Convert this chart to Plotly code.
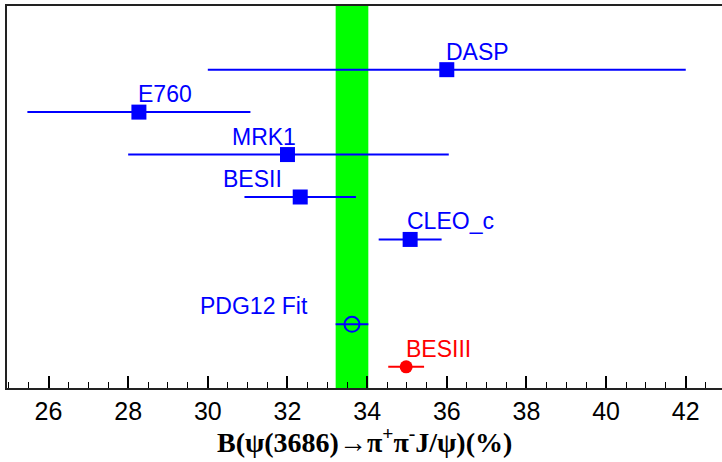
import plotly.graph_objects as go

# ---- data ----
experiments = ["DASP", "E760", "MRK1", "BESII", "CLEO_c", "PDG12 Fit", "BESIII"]
values = [36.0, 28.27, 32.0, 32.32, 35.08, 33.62, 34.98]
err_minus = [6.0, 2.8, 4.0, 1.4, 0.79, 0.41, 0.45]
err_plus = [6.0, 2.8, 4.05, 1.4, 0.79, 0.41, 0.45]
rows = [8, 7, 6, 5, 4, 2, 1]
tick_vals = [26, 28, 30, 32, 34, 36, 38, 40, 42]

# label placement: (anchor, x)
label_anchor = ["left", "left", "center", "center", "left", "center", "left"]
label_x = [36.0, 28.27, 31.41, 31.13, 35.02, 31.16, 34.99]

BLUE = "#0000ff"
RED = "#ff0000"
GREEN = "#00ff00"

fig = go.Figure()

# green PDG band
pdg_i = experiments.index("PDG12 Fit")
fig.add_shape(type="rect", xref="x", yref="paper",
              x0=values[pdg_i] - err_minus[pdg_i], x1=values[pdg_i] + err_plus[pdg_i],
              y0=0, y1=1, fillcolor=GREEN, line=dict(width=0), layer="below")

# measurements (squares)
sq = [i for i, e in enumerate(experiments) if e not in ("PDG12 Fit", "BESIII")]
fig.add_trace(go.Scatter(
    x=[values[i] for i in sq], y=[rows[i] for i in sq], mode="markers",
    marker=dict(symbol="square", size=15, color=BLUE),
    error_x=dict(type="data", symmetric=False,
                 array=[err_plus[i] for i in sq], arrayminus=[err_minus[i] for i in sq],
                 color=BLUE, thickness=2, width=0),
    showlegend=False))

# PDG fit
fig.add_trace(go.Scatter(
    x=[values[pdg_i]], y=[rows[pdg_i]], mode="markers",
    marker=dict(symbol="circle-open", size=15, color=BLUE, line=dict(width=2, color=BLUE)),
    error_x=dict(type="data", symmetric=False, array=[err_plus[pdg_i]],
                 arrayminus=[err_minus[pdg_i]], color=BLUE, thickness=2, width=0),
    showlegend=False))

# BESIII
b_i = experiments.index("BESIII")
fig.add_trace(go.Scatter(
    x=[values[b_i]], y=[rows[b_i]], mode="markers",
    marker=dict(symbol="circle", size=13, color=RED),
    error_x=dict(type="data", symmetric=False, array=[err_plus[b_i]],
                 arrayminus=[err_minus[b_i]], color=RED, thickness=2, width=0),
    showlegend=False))

# labels
for i, name in enumerate(experiments):
    fig.add_annotation(x=label_x[i], y=rows[i], xref="x", yref="y", text=name,
                       showarrow=False, xanchor=label_anchor[i], yanchor="middle",
                       yshift=18, xshift=-3 if label_anchor[i] == "left" else 0,
                       font=dict(family="Liberation Sans, Arial", size=23,
                                 color=RED if name == "BESIII" else BLUE))

# axis title
fig.add_annotation(x=0.5, y=-0.137, xref="paper", yref="paper",
                   text="<b>B(ψ(3686)→π<sup>+</sup>π<sup>-</sup>J/ψ)(%)</b>",
                   showarrow=False, xanchor="center", yanchor="middle",
                   font=dict(family="Liberation Serif, Times New Roman", size=28, color="black"))

fig.update_layout(
    width=722, height=462,
    margin=dict(l=7, r=0, t=6, b=74),
    paper_bgcolor="white", plot_bgcolor="white",
    xaxis=dict(range=[24.958, 42.91], tickvals=tick_vals, ticks="inside", ticklen=12,
               tickwidth=2, tickcolor="black", showline=True, linecolor="#222222",
               linewidth=2, mirror=True, showgrid=False, zeroline=False,
               tickfont=dict(family="Liberation Sans, Arial", size=25, color="black"),
               minor=dict(dtick=0.5, tick0=26, ticks="inside", ticklen=6, tickwidth=1,
                          tickcolor="black", showgrid=False)),
    yaxis=dict(range=[0.5, 9.5], showticklabels=False, ticks="", showgrid=False,
               zeroline=False, showline=True, linecolor="#222222", linewidth=2),
)

fig.write_html("out.html")
